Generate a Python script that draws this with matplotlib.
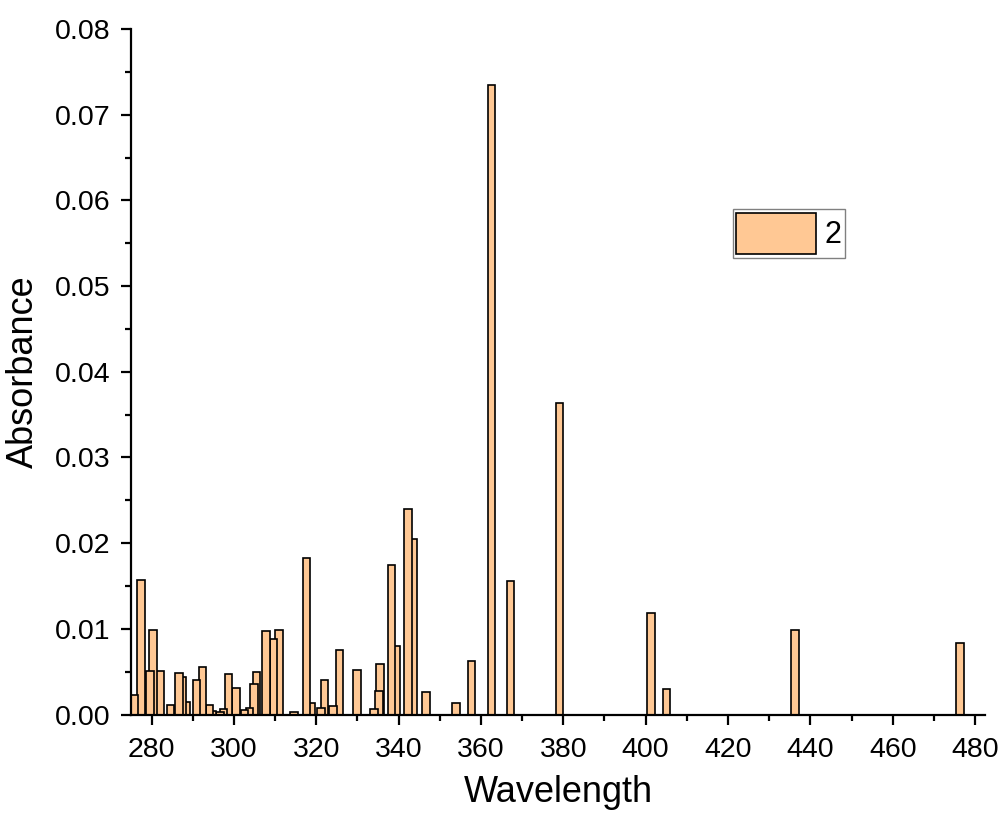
import matplotlib
matplotlib.use("Agg")
import matplotlib.pyplot as plt
from matplotlib.ticker import MultipleLocator

plt.rcParams["font.family"] = ["Liberation Sans", "DejaVu Sans"]

# stick spectrum (wavelength in nm, absorbance)
wavelength = [275.8, 277.4, 279.6, 280.3, 282.1, 284.6, 286.7, 287.5, 288.4,
              290.9, 292.4, 294.1, 294.6, 296.6, 297.5, 298.7, 300.5, 302.6,
              303.8, 304.9, 305.5, 307.8, 309.6, 311.0, 314.6, 317.6, 318.7,
              321.1, 322.0, 324.1, 325.6, 329.9, 334.0, 335.2, 335.5, 338.3,
              339.4, 342.3, 343.6, 346.7, 353.9, 357.7, 362.6, 367.2, 379.1,
              401.3, 405.1, 436.3, 476.3]
absorbance = [0.0023, 0.0157, 0.0051, 0.0099, 0.0051, 0.0011, 0.0048, 0.0044, 0.0015,
              0.0040, 0.0055, 0.0011, 0.0004, 0.0003, 0.0006, 0.0047, 0.0031, 0.0005,
              0.0008, 0.0036, 0.0050, 0.0097, 0.0088, 0.0099, 0.0003, 0.0183, 0.0014,
              0.0008, 0.0040, 0.0010, 0.0075, 0.0052, 0.0006, 0.0028, 0.0059, 0.0174,
              0.0080, 0.0240, 0.0205, 0.0026, 0.0014, 0.0062, 0.0735, 0.0156, 0.0364,
              0.0118, 0.0030, 0.0099, 0.0083]
series_label = "2"

BAR_FILL = "#FFC894"

fig = plt.figure(figsize=(10.03, 8.14), dpi=100)
ax = fig.add_axes([0.1306, 0.1222, 0.8514, 0.8422])

# draw from long to short wavelength so shorter ones sit on top (as in the reference)
ax.bar(wavelength[::-1], absorbance[::-1], width=1.85, color=BAR_FILL,
       edgecolor="black", linewidth=1.2, label=series_label)

ax.set_xlim(275, 482.4)
ax.set_ylim(0, 0.08)
ax.xaxis.set_major_locator(MultipleLocator(20))
ax.xaxis.set_minor_locator(MultipleLocator(10))
ax.yaxis.set_major_locator(MultipleLocator(0.01))
ax.yaxis.set_minor_locator(MultipleLocator(0.005))
ax.yaxis.set_major_formatter(plt.FuncFormatter(lambda v, _: f"{v:.2f}"))

for side in ("top", "right"):
    ax.spines[side].set_visible(False)
for side in ("left", "bottom"):
    ax.spines[side].set_linewidth(1.6)

ax.tick_params(which="major", direction="out", length=7, width=1.6, labelsize=20.5)
ax.tick_params(axis="y", which="major", pad=8)
ax.tick_params(axis="x", which="major", pad=9)
ax.tick_params(which="minor", direction="out", length=4, width=1.6)

ax.set_xlabel("Wavelength", fontsize=26, labelpad=9)
ax.set_ylabel("Absorbance", fontsize=26, labelpad=10)

leg = ax.legend(loc="upper left", bbox_to_anchor=(0.7045, 0.7374), fontsize=22,
                handlelength=2.6, handleheight=1.7, handletextpad=0.3,
                borderpad=0.12, borderaxespad=0, fancybox=False, framealpha=1)
leg.get_frame().set_edgecolor("#808080")
leg.get_frame().set_linewidth(1.0)

fig.savefig("out.png", dpi=100)
